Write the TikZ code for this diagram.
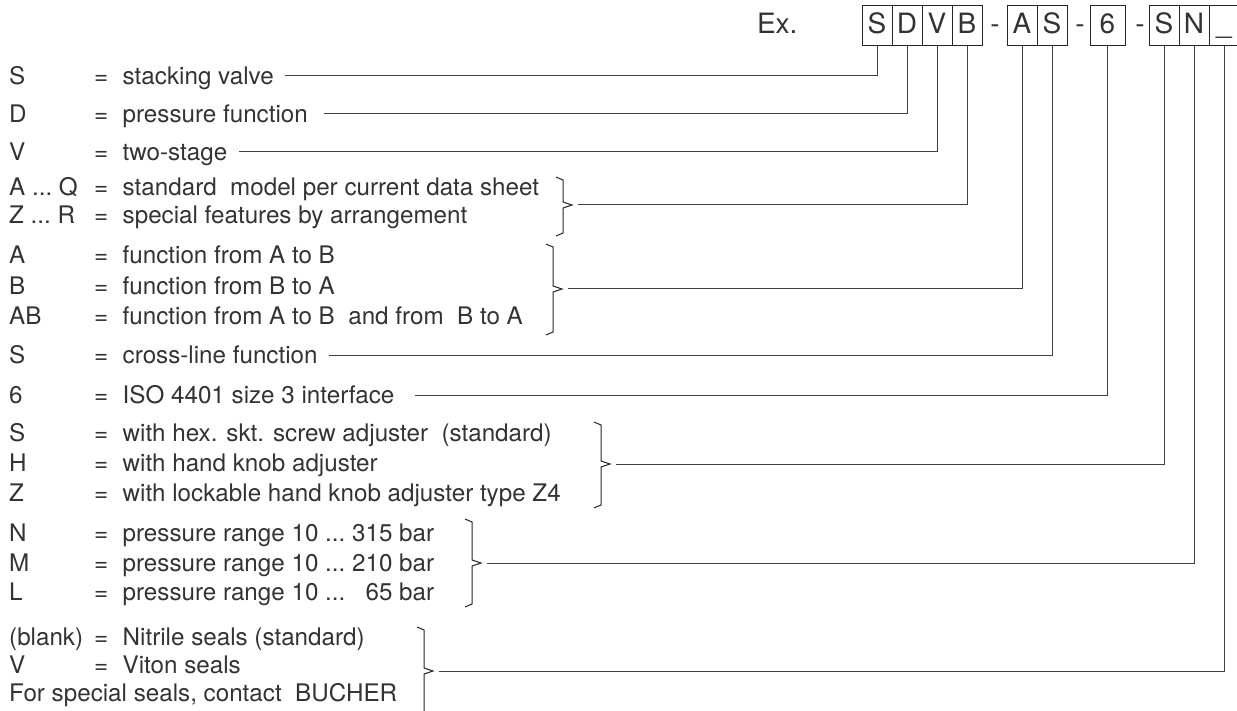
\documentclass[tikz,border=0pt]{standalone}
\usepackage{fontspec}
\setmainfont{TeX Gyre Heros}
\usetikzlibrary{positioning}

% brace: x, top, tip, bottom, name of the tip coordinate
\newcommand{\codebrace}[5]{%
  \draw[bracket] (#1-7,#2-3) -- (#1,#2) -- (#1,#3-3) -- (#1+9,#3)
    -- (#1,#3+3) -- (#1,#4) -- (#1-7,#4+3);
  \coordinate (#5) at (#1+15,#3);
}
\newcommand{\dotsep}{.{}.{}.}

\begin{document}
\begin{tikzpicture}[x=1pt, y=-1pt,
    codebox/.style={rectangle, draw=black!85, line width=1pt, minimum width=30pt,
                    minimum height=40pt, inner sep=0pt, outer sep=0pt,
                    text height=20pt, text depth=5pt, font=\fontsize{28}{30}\selectfont,
                    text=black!80},
    sep/.style={inner sep=0pt, outer sep=0pt, text height=20pt, text depth=5pt,
                font=\fontsize{28}{30}\selectfont, text=black!80},
    key/.style={anchor=west, inner sep=0pt, text height=18pt, text depth=0.5pt,
                font=\fontsize{24.2}{28}\selectfont, text=black!80},
    link/.style={draw=black!75, line width=1pt},
    bracket/.style={draw=black!85, line width=1pt, line join=miter}
]
\useasboundingbox (0,0) rectangle (1237,711);

% Type code
\node[sep, anchor=west] (ex) at (757,26) {Ex.};
\node[codebox] (bS) at (877,26) {S};
\node[codebox, right=0pt of bS] (bD) {D};
\node[codebox, right=0pt of bD] (bV) {V};
\node[codebox, right=0pt of bV] (bB) {B};
\node[sep] (dash1) at (995,26) {-};
\node[codebox] (bA) at (1022,26) {A};
\node[codebox, right=0pt of bA] (bS2) {S};
\node[sep] (dash2) at (1080,26) {-};
\node[codebox, minimum width=35pt] (b6) at (1107.5,26) {6};
\node[sep] (dash3) at (1140,26) {-};
\node[codebox] (bS3) at (1164,26) {S};
\node[codebox, right=0pt of bS3] (bN) {N};
\node[codebox, right=0pt of bN] (bX) {\_};

% Legend
\foreach \n/\y/\c/\t in {
    1/76/S/stacking valve,
    2/114/D/pressure function,
    3/152/V/two-stage,
    4/187/A \dotsep\ Q/standard\ \ model per current data sheet,
    5/215/Z \dotsep\ R/special features by arrangement,
    6/255/A/function from A to B,
    7/286/B/function from B to A,
    8/316/AB/function from A to B\ \ and from\ \ B to A,
    9/355/S/cross-line function,
    10/395/6/ISO 4401 size 3 interface,
    11/433/S/with hex. skt. screw adjuster\ \ (standard),
    12/463/H/with hand knob adjuster,
    13/493/Z/with lockable hand knob adjuster type Z4,
    14/533/N/pressure range 10 \dotsep\ 315 bar,
    15/563/M/pressure range 10 \dotsep\ 210 bar,
    16/592/L/pressure range 10 \dotsep\ \phantom{3}65 bar,
    17/637/(blank)/Nitrile seals (standard),
    18/665/V/Viton seals} {
    \node[key] (code\n) at (9,\y) {\c};
    \node[key] (eq\n) at (94,\y) {=};
    \node[key] (def\n) at (122.5,\y) {\t};
}
\node[key] (code19) at (9,693) {For special seals, contact\ \ BUCHER};

% Braces
\codebrace{563}{180}{205}{233}{tipB}
\codebrace{553}{247}{289}{332}{tipA}
\codebrace{601}{425}{464}{505}{tipS}
\codebrace{472}{522}{563}{604}{tipN}
\codebrace{424}{630}{671}{712}{tipX}

% Connectors
\draw[link] ([xshift=11pt]def1.east) -| (bS.south);
\draw[link] ([xshift=16pt]def2.east) -| (bD.south);
\draw[link] ([xshift=12pt]def3.east) -| (bV.south);
\draw[link] (tipB) -| (bB.south);
\draw[link] (tipA) -| (bA.south);
\draw[link] ([xshift=11pt]def9.east) -| (bS2.south);
\draw[link] ([xshift=20pt]def10.east) -| (b6.south);
\draw[link] (tipS) -| (bS3.south);
\draw[link] (tipN) -| (bN.south);
\draw[link] (tipX) -| (bX.south);

\end{tikzpicture}
\end{document}
